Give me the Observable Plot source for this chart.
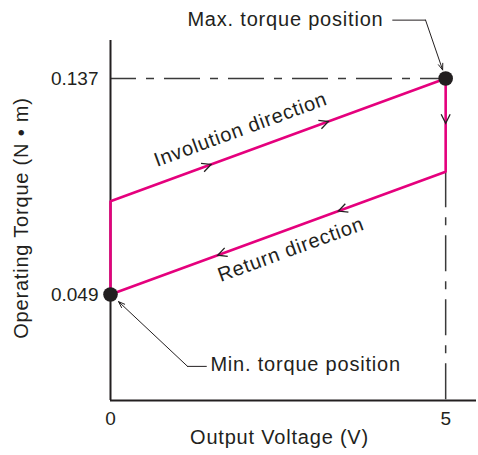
<!DOCTYPE html>
<html><head><meta charset="utf-8">
<script src="https://cdn.jsdelivr.net/npm/d3@7"></script>
<script src="https://cdn.jsdelivr.net/npm/@observablehq/plot@0.6"></script>
<style>
html,body{margin:0;padding:0;background:#fff;}
svg{display:block;}
g[aria-label="text"] text{letter-spacing:0.8px;}
</style></head><body><div id="chart"></div>
<script>
// ---- data ----
const voltage = [0, 0, 5, 5, 0];                    // output voltage (V), hysteresis loop
const torque  = [0.049, 0.087, 0.137, 0.099, 0.049]; // operating torque (N·m)
const extremeVoltage = [5, 0];
const extremeTorque  = [0.137, 0.049];
const tickVoltage = [0, 5];
const tickTorque  = [0.049, 0.137];
const arrowSegment  = [1, 1, 2, 3, 3];              // loop segment carrying a direction mark
const arrowFraction = [0.30, 0.65, 0.48, 0.32, 0.68];
const labelInvolution = "Involution direction";
const labelReturn = "Return direction";
const labelMax = "Max. torque position";
const labelMin = "Min. torque position";
const xTitle = "Output Voltage (V)";
const yTitle = "Operating Torque (N • m)";

// ---- layout ----
const W = 478, H = 455, mL = 110, mR = 2, mT = 40, mB = 55;
const xDomain = [0, 5.46];
const yDomain = [0.0058, 0.1525];
const kx = (W - mL - mR) / (xDomain[1] - xDomain[0]);
const ky = (H - mT - mB) / (yDomain[1] - yDomain[0]);
const ink = "#231f20", pink = "#e5007d";

const loop = voltage.map((v, i) => ({v, t: torque[i]}));
const extremes = extremeVoltage.map((v, i) => ({v, t: extremeTorque[i]}));
const angleOf = (a, b) => Math.atan2(-(b.t - a.t) * ky, (b.v - a.v) * kx) * 180 / Math.PI;
const heads = arrowSegment.map((s, i) => {
  const a = loop[s], b = loop[s + 1], f = arrowFraction[i];
  return {v: a.v + (b.v - a.v) * f, t: a.t + (b.t - a.t) * f, rot: angleOf(a, b)};
});
const slope = angleOf(loop[1], loop[2]);

const chevron = {draw(ctx, size) {
  const r = Math.sqrt(size / Math.PI);
  ctx.moveTo(-r, -r * 0.5); ctx.lineTo(0, 0); ctx.lineTo(-r, r * 0.5);
}};

const font = "'Liberation Sans', Arial, Helvetica, sans-serif";

const chart = Plot.plot({
  width: W, height: H,
  marginLeft: mL, marginRight: mR, marginTop: mT, marginBottom: mB,
  style: {fontFamily: font, fontSize: "19px", color: ink, background: "#fff"},
  x: {domain: xDomain},
  y: {domain: yDomain},
  marks: [
    Plot.axisX(tickVoltage, {tickSize: 0, tickPadding: 11, fontSize: 19, label: null, fill: ink}),
    Plot.axisY(tickTorque, {tickSize: 0, tickPadding: 12, fontSize: 19, label: null, fill: ink, tickFormat: d3.format(".3f")}),
    // dashed reference lines
    Plot.ruleY([extremeTorque[0]], {x1: 0, x2: extremeVoltage[0], stroke: "#3a3a3a", strokeWidth: 1.5, strokeDasharray: "36,10,8,10", strokeDashoffset: 10}),
    Plot.ruleX([extremeVoltage[0]], {y1: torque[3], y2: yDomain[0], stroke: "#3a3a3a", strokeWidth: 1.5, strokeDasharray: "36,10,8,10"}),
    // axes lines
    Plot.ruleX([0], {stroke: ink, strokeWidth: 2}),
    Plot.ruleY([yDomain[0]], {stroke: ink, strokeWidth: 2}),
    // hysteresis loop
    Plot.line(loop, {x: "v", y: "t", stroke: pink, strokeWidth: 2.6, strokeLinejoin: "miter"}),
    Plot.dot(heads, {x: "v", y: "t", rotate: "rot", symbol: chevron, r: 9, stroke: ink, fill: "none", strokeWidth: 1.3}),
    Plot.dot(extremes, {x: "v", y: "t", r: 7.3, fill: ink}),
    // direction labels
    Plot.text([labelInvolution], {x: 1.94, y: 0.1162, text: d => d, rotate: slope, fontSize: 20, fill: ink}),
    Plot.text([labelReturn], {x: 2.69, y: 0.0673, text: d => d, rotate: slope, fontSize: 20, fill: ink}),
    // max annotation
    Plot.text([labelMax], {x: 2.61, y: 0.161, text: d => d, fontSize: 20, fill: ink}),
    Plot.line([{v: 4.21, t: 0.1608}, {v: 4.70, t: 0.1608}], {x: "v", y: "t", stroke: ink, strokeWidth: 1}),
    Plot.arrow([0], {x1: 4.70, y1: 0.1608, x2: 4.955, y2: 0.1405, stroke: ink, strokeWidth: 1, headLength: 10, headAngle: 40}),
    // min annotation
    Plot.text([labelMin], {x: 1.49, y: 0.0203, text: d => d, textAnchor: "start", fontSize: 20, fill: ink}),
    Plot.line([{v: 1.43, t: 0.0197}, {v: 1.15, t: 0.0197}], {x: "v", y: "t", stroke: ink, strokeWidth: 1}),
    Plot.arrow([0], {x1: 1.15, y1: 0.0197, x2: 0.12, y2: 0.0461, stroke: ink, strokeWidth: 1, headLength: 10, headAngle: 40}),
    // axis titles
    Plot.text([xTitle], {frameAnchor: "bottom", textAnchor: "middle", dx: -14, dy: 43, text: d => d, fontSize: 20, fill: ink}),
    Plot.text([yTitle], {frameAnchor: "left", textAnchor: "middle", dx: -89, dy: -2.5, rotate: -90, text: d => d, fontSize: 20, fill: ink})
  ]
});
document.getElementById("chart").appendChild(chart);
</script>
</body></html>
